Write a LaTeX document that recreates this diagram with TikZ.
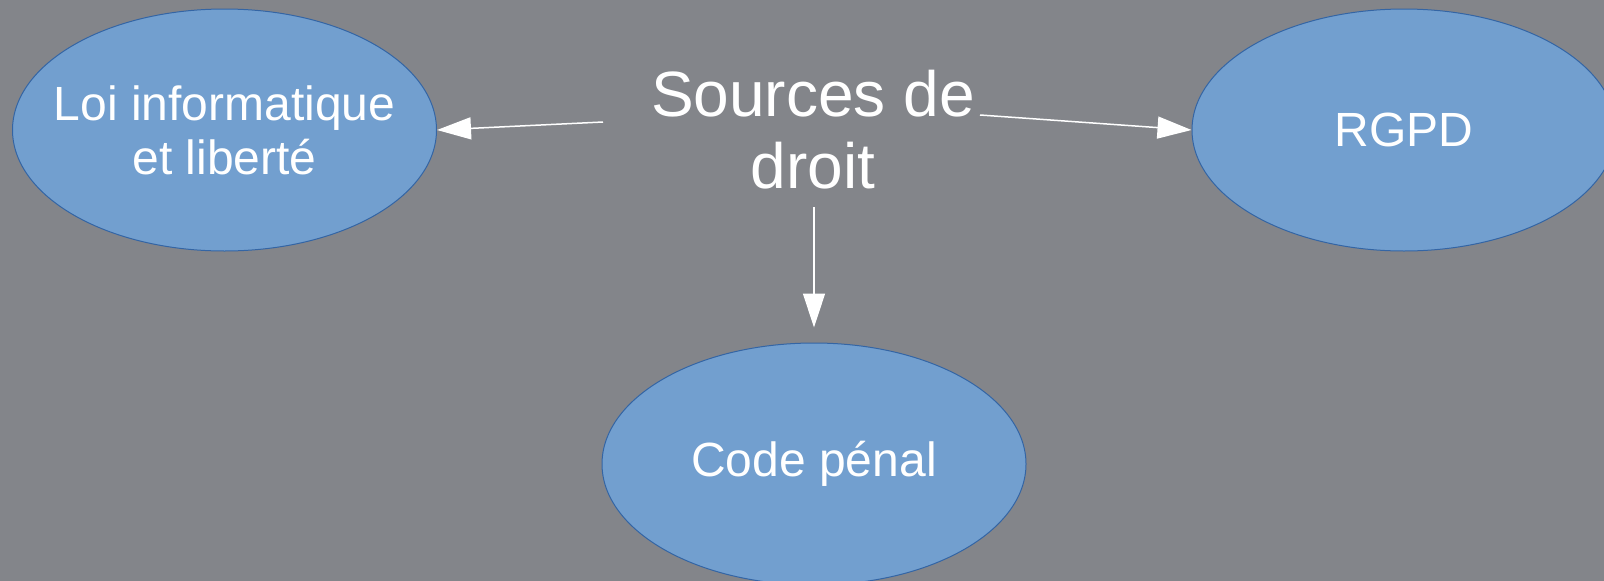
\documentclass[tikz,border=0pt]{standalone}
\usepackage{fontspec}
\setmainfont{Liberation Sans}
\usetikzlibrary{shapes.geometric,arrows.meta}
\definecolor{fond}{RGB}{131,133,138}
\definecolor{bulle}{RGB}{114,159,207}
\definecolor{bord}{RGB}{52,101,164}
\begin{document}
\begin{tikzpicture}[x=1pt,y=-1pt,
    source/.style={ellipse,draw=bord,fill=bulle,line width=1pt,minimum width=424pt,minimum height=242pt,
        inner xsep=-60pt,inner ysep=0pt,text=white,align=center,font=\fontsize{48pt}{54pt}\selectfont},
    fleche/.style={draw=white,line width=1.5pt,-{Triangle[length=34pt,width=22pt,fill=white]}}]
    %% background
    \fill[fond] (0,0) rectangle (1604,581);
    \useasboundingbox (0,0) rectangle (1604,581);
    %% title
    \node[text=white,align=center,font=\fontsize{64pt}{72pt}\selectfont] (sources) at (813,130) {Sources de\\droit};
    %% the three sources
    \node[source] (loi) at (224.5,130) {Loi informatique\\et libert\'e};
    \node[source] (rgpd) at (1404,130) {RGPD};
    \node[source] (code) at (814,464) {Code p\'enal};
    %% arrows
    \coordinate (s-w) at (603,122);
    \coordinate (s-e) at (980,115);
    \coordinate (s-s) at (814,207);
    \draw[fleche] (s-w) -- (loi.east);
    \draw[fleche] (s-e) -- (rgpd.west);
    \draw[fleche,shorten >=15pt] (s-s) -- (code.north);
\end{tikzpicture}
\end{document}
